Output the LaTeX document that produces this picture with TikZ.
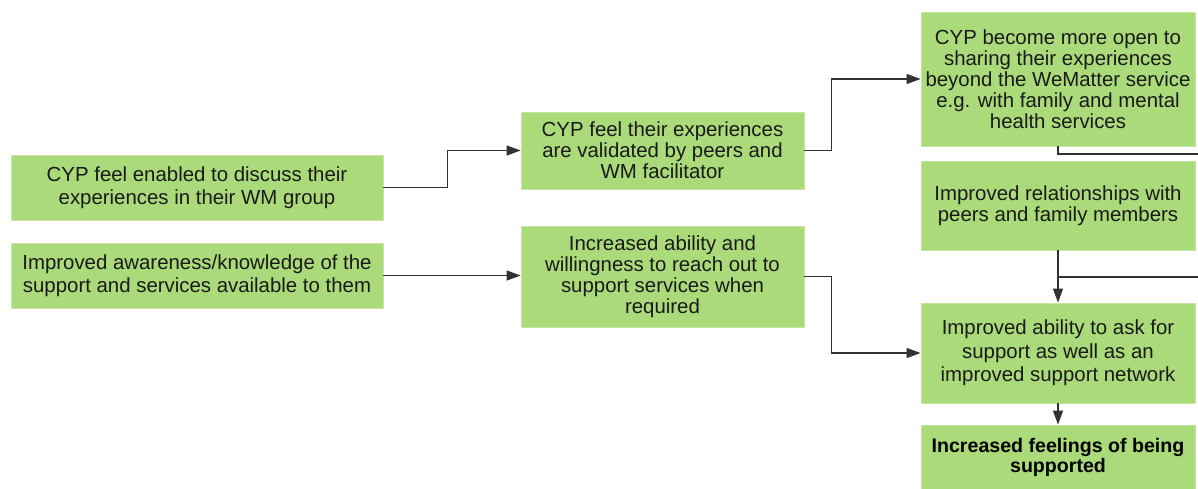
\documentclass[tikz,border=0pt]{standalone}
\usepackage{fontspec}
\setmainfont{Liberation Sans}
\usetikzlibrary{arrows.meta}
\definecolor{boxgreen}{RGB}{170,218,122}
\definecolor{boxedge}{RGB}{196,230,160}
\definecolor{inkgrey}{RGB}{26,26,26}
\definecolor{linegrey}{RGB}{50,50,50}
\tikzset{
  box/.style={rectangle, fill=boxgreen, draw=boxedge, line width=0.8pt,
    inner sep=0pt, align=center, text=inkgrey,
    font=\fontsize{20.4}{21}\selectfont},
  wide/.style={font=\fontsize{20.4}{23}\selectfont},
  link/.style={draw=linegrey, line width=1.3pt,
    -{Triangle[length=14pt,width=10pt]}},
  plainlink/.style={draw=linegrey, line width=1.3pt},
}
\begin{document}
\begin{tikzpicture}[x=1pt,y=-1pt]
\clip (0,0) rectangle (1198,488);
\fill[white] (0,0) rectangle (1198,488);

% left column
\node[box, wide, minimum width=372pt, minimum height=65pt] (enable) at (197,187.5)
  {CYP feel enabled to discuss their\\experiences in their WM group};
\node[box, wide, minimum width=372pt, minimum height=65pt] (aware) at (197,275.5)
  {Improved awareness/knowledge of the\\support and services available to them};

% middle column
\node[box, minimum width=283pt, minimum height=77pt] (validated) at (662.5,150.5)
  {CYP feel their experiences\\are validated by peers and\\WM facilitator};
\node[box, minimum width=283pt, minimum height=101pt] (reach) at (662.5,276.5)
  {Increased ability and\\willingness to reach out to\\support services when\\required};

% right column
\node[box, minimum width=274pt, minimum height=134pt] (open) at (1058,79)
  {CYP become more open to\\sharing their experiences\\beyond the WeMatter service\\e.g. with family and mental\\health services};
\node[box, minimum width=274pt, minimum height=89pt] (relations) at (1058,205.5)
  {Improved relationships with\\peers and family members};
\node[box, font=\fontsize{20.4}{23.5}\selectfont, minimum width=274pt, minimum height=100pt] (askfor) at (1058,353)
  {Improved ability to ask for\\support as well as an\\improved support network};
\node[box, font=\fontsize{19.6}{20}\selectfont\bfseries, text=black, minimum width=274pt, minimum height=65pt] (felt) at (1058,457.5)
  {Increased feelings of being\\supported};

% lines leaving the picture on the right
\coordinate (exitA) at (1210,154);
\coordinate (exitB) at (1210,277);

% connectors
\draw[link] (enable.east) -- ++(64,0) |- (validated.west);
\draw[link] (validated.east) -- ++(27,0) |- (open.west);
\draw[link] (aware.east) -- (aware.east -| reach.west);
\draw[link] (reach.east) -- ++(27,0) |- (askfor.west);
\draw[plainlink] (open.south) |- (exitA);
\draw[link] (relations.south) -- (askfor.north);
\draw[plainlink] (relations.south |- exitB) -- (exitB);
\draw[link] (askfor.south) -- (felt.north);
\end{tikzpicture}
\end{document}
